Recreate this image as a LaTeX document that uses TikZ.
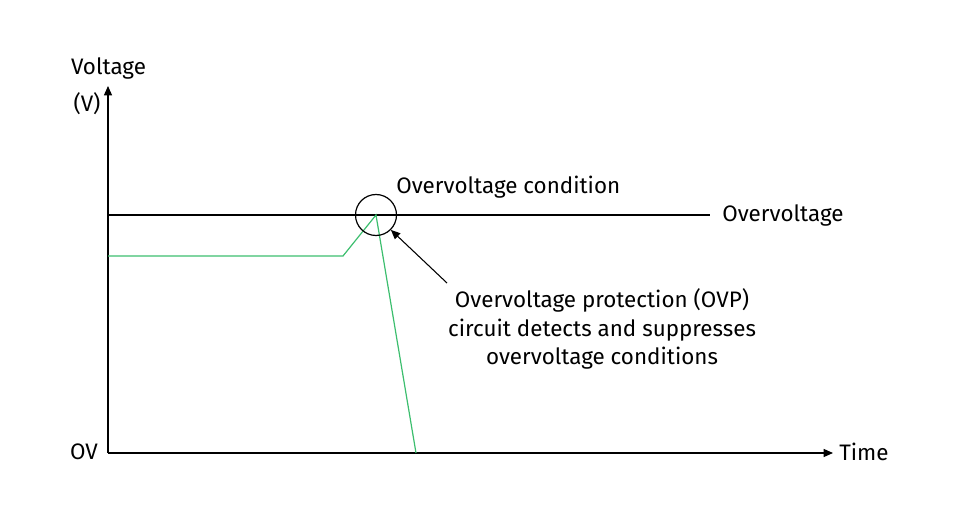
\documentclass[tikz,border=0pt]{standalone}
\usepackage{fontspec}
\setmainfont{Fira Sans}
\usetikzlibrary{arrows.meta}
\definecolor{sig}{RGB}{60,190,110}
\tikzset{
  lbl/.style={font=\fontsize{16.8}{21.4}\selectfont, inner sep=0pt},
  axis/.style={draw=black, line width=0.9pt, -{Triangle[length=7pt,width=6pt]}},
}
\begin{document}
\begin{tikzpicture}[x=0.75pt,y=-0.75pt]
\useasboundingbox (0,0) rectangle (960,520);
\coordinate (O) at (108,453);
\coordinate (ytop) at (108,86);
\coordinate (xend) at (833,453);
\draw[axis] (O) -- (ytop);
\draw[axis] (O) -- (xend);
\node[lbl] (vlab) at (108.5,68) {Voltage};
\node[lbl] (vunit) at (87,104) {(V)};
\node[lbl] (zero) at (84,452) {OV};
\node[lbl, anchor=west] (time) at (839,452) {Time};
\coordinate (ovs) at (108,215);
\coordinate (ove) at (710,215);
\draw[line width=0.8pt] (ovs) -- (ove);
\node[lbl, anchor=west] (ovlab) at (722,215) {Overvoltage};
\coordinate (g1) at (108,256);
\coordinate (g2) at (343,256);
\coordinate (g3) at (376,215);
\coordinate (g4) at (416,453);
\draw[sig, line width=0.9pt] (g1) -- (g2) -- (g3) -- (g4);
\node[draw, circle, minimum size=41pt*0.75, line width=0.9pt, inner sep=0pt] (circ) at (376,215) {};
\node[lbl, anchor=west] (cond) at (396,187) {Overvoltage condition};
\node[lbl, align=center] (desc) at (602,329) {Overvoltage protection (OVP)\\circuit detects and suppresses\\overvoltage conditions};
\coordinate (astart) at (447,283);
\draw[line width=0.8pt, -{Triangle[length=7pt,width=6pt]}] (astart) -- (circ.-45);
\end{tikzpicture}
\end{document}
